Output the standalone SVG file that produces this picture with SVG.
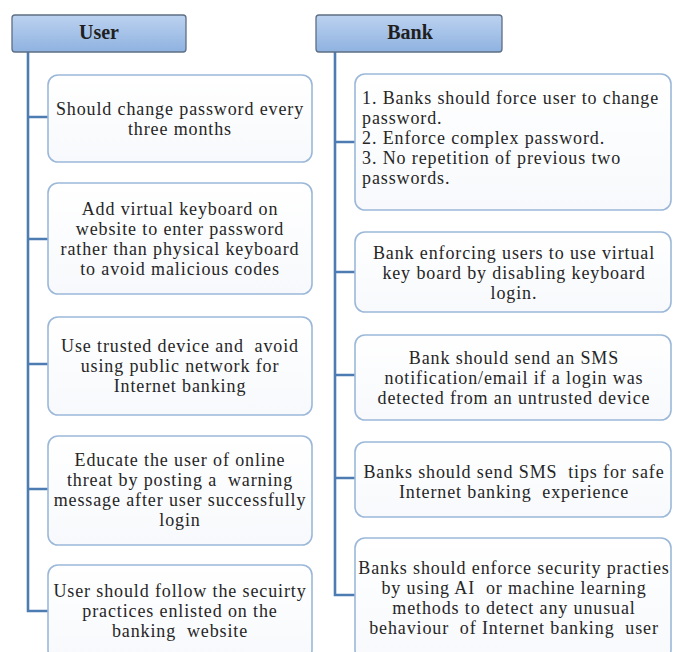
<svg xmlns="http://www.w3.org/2000/svg" width="673" height="652" viewBox="0 0 673 652">
<defs>
<linearGradient id="hdr" x1="0" y1="0" x2="0" y2="1">
<stop offset="0" stop-color="#bcd2f0"/>
<stop offset="1" stop-color="#8fb2e0"/>
</linearGradient>
<linearGradient id="box" x1="0" y1="0" x2="0" y2="1">
<stop offset="0" stop-color="#ffffff"/>
<stop offset="1" stop-color="#f7f9fc"/>
</linearGradient>
<style>
.hdr{fill:url(#hdr);stroke:#5d6f84;stroke-width:1.3}
.box{fill:url(#box);stroke:#9cb8d9;stroke-width:1.6}
.ln{fill:none;stroke:#4d7cb3;stroke-width:2.6}
</style>
</defs>
<rect width="673" height="652" fill="#ffffff"/>
<g id="connectors">
<path class="ln" d="M28 52 V611 H48"/>
<path class="ln" d="M28 117 H48 M28 239 H48 M28 364 H48 M28 489 H48"/>
<path class="ln" d="M335 52 V595 H355"/>
<path class="ln" d="M335 142 H355 M335 272 H355 M335 375 H355 M335 478 H355"/>
</g>
<g id="user">
<rect class="hdr" x="12" y="15" width="174" height="37" rx="3"/>
<text x="99" y="39" font-family="Liberation Serif, serif" font-size="20" font-weight="bold" fill="#1f1f1f" text-anchor="middle">User</text>
</g>
<g id="bank">
<rect class="hdr" x="316" y="15" width="186" height="37" rx="3"/>
<text x="410" y="39" font-family="Liberation Serif, serif" font-size="20" font-weight="bold" fill="#1f1f1f" text-anchor="middle">Bank</text>
</g>
<g id="u1">
<rect class="box" x="48" y="75" width="264" height="87" rx="10"/>
<text y="114.5" font-family="Liberation Serif, serif" font-size="18" letter-spacing="0.88" fill="#262626" text-anchor="middle"><tspan x="180">Should change password every</tspan><tspan x="180" dy="20">three months</tspan></text>
</g>
<g id="u2">
<rect class="box" x="48" y="183" width="264" height="111" rx="10"/>
<text y="215" font-family="Liberation Serif, serif" font-size="18" letter-spacing="0.88" fill="#262626" text-anchor="middle"><tspan x="180">Add virtual keyboard on</tspan><tspan x="180" dy="20">website to enter password</tspan><tspan x="180" dy="20">rather than physical keyboard</tspan><tspan x="180" dy="20">to avoid malicious codes</tspan></text>
</g>
<g id="u3">
<rect class="box" x="48" y="317" width="264" height="98" rx="10"/>
<text y="352" font-family="Liberation Serif, serif" font-size="18" letter-spacing="0.88" fill="#262626" text-anchor="middle" xml:space="preserve"><tspan x="180">Use trusted device and  avoid</tspan><tspan x="180" dy="20">using public network for</tspan><tspan x="180" dy="20">Internet banking</tspan></text>
</g>
<g id="u4">
<rect class="box" x="48" y="436" width="264" height="109" rx="10"/>
<text y="466" font-family="Liberation Serif, serif" font-size="18" letter-spacing="0.88" fill="#262626" text-anchor="middle" xml:space="preserve"><tspan x="180">Educate the user of online</tspan><tspan x="180" dy="20">threat by posting a  warning</tspan><tspan x="180" dy="20">message after user successfully</tspan><tspan x="180" dy="20">login</tspan></text>
</g>
<g id="u5">
<rect class="box" x="48" y="565" width="264" height="95" rx="10"/>
<text y="596.5" font-family="Liberation Serif, serif" font-size="18" letter-spacing="0.88" fill="#262626" text-anchor="middle" xml:space="preserve"><tspan x="180">User should follow the secuirty</tspan><tspan x="180" dy="20">practices enlisted on the</tspan><tspan x="180" dy="20">banking  website</tspan></text>
</g>
<g id="b1">
<rect class="box" x="355" y="74" width="316" height="136" rx="10"/>
<text y="104" font-family="Liberation Serif, serif" font-size="18" letter-spacing="0.88" fill="#262626"><tspan x="362">1. Banks should force user to change</tspan><tspan x="362" dy="20">password.</tspan><tspan x="362" dy="20">2. Enforce complex password.</tspan><tspan x="362" dy="20">3. No repetition of previous two</tspan><tspan x="362" dy="20">passwords.</tspan></text>
</g>
<g id="b2">
<rect class="box" x="355" y="232" width="316" height="80" rx="10"/>
<text y="258.5" font-family="Liberation Serif, serif" font-size="18" letter-spacing="0.88" fill="#262626" text-anchor="middle"><tspan x="514">Bank enforcing users to use virtual</tspan><tspan x="514" dy="20">key board by disabling keyboard</tspan><tspan x="514" dy="20">login.</tspan></text>
</g>
<g id="b3">
<rect class="box" x="355" y="335" width="316" height="85" rx="10"/>
<text y="363.5" font-family="Liberation Serif, serif" font-size="18" letter-spacing="0.88" fill="#262626" text-anchor="middle"><tspan x="514">Bank should send an SMS</tspan><tspan x="514" dy="20">notification/email if a login was</tspan><tspan x="514" dy="20">detected from an untrusted device</tspan></text>
</g>
<g id="b4">
<rect class="box" x="355" y="442" width="316" height="75" rx="10"/>
<text y="478" font-family="Liberation Serif, serif" font-size="18" letter-spacing="0.88" fill="#262626" text-anchor="middle" xml:space="preserve"><tspan x="514">Banks should send SMS  tips for safe</tspan><tspan x="514" dy="20">Internet banking  experience</tspan></text>
</g>
<g id="b5">
<rect class="box" x="355" y="538" width="316" height="122" rx="10"/>
<text y="573.5" font-family="Liberation Serif, serif" font-size="18" letter-spacing="0.88" fill="#262626" text-anchor="middle" xml:space="preserve"><tspan x="514">Banks should enforce security practies</tspan><tspan x="514" dy="20">by using AI  or machine learning</tspan><tspan x="514" dy="20">methods to detect any unusual</tspan><tspan x="514" dy="20">behaviour  of Internet banking  user</tspan></text>
</g>
</svg>
